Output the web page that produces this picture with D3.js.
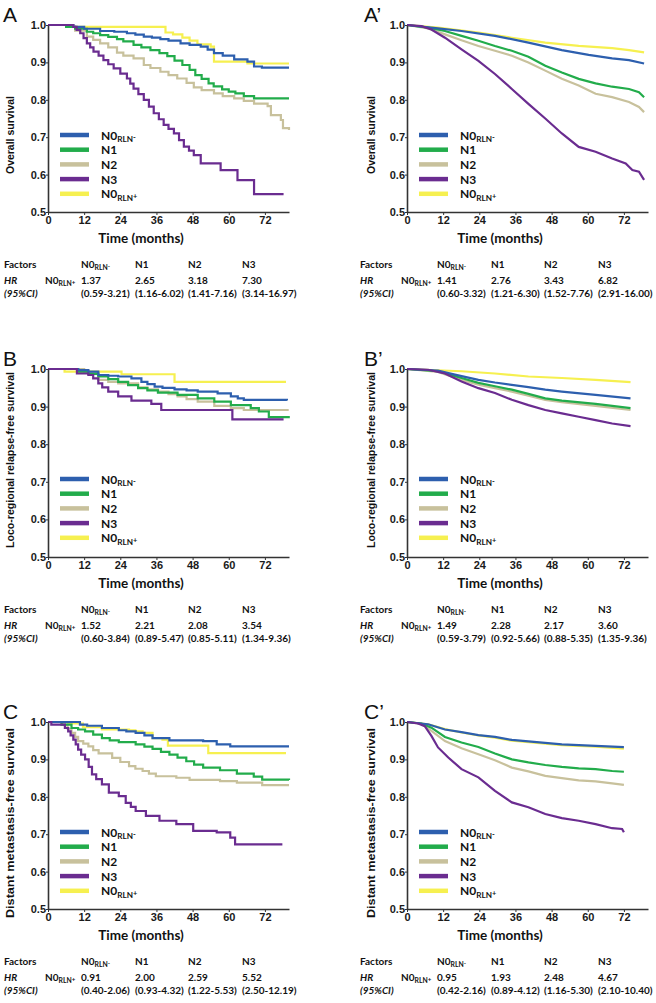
<!DOCTYPE html>
<html lang="en">
<head>
<meta charset="UTF-8">
<title>Survival by nodal category</title>
<script src="https://d3js.org/d3.v7.min.js"></script>
<style>
  body { margin: 0; background: #fff; }
  svg text { fill: #111; }
  .tick text { font-family: "Liberation Sans", Arial, sans-serif; font-size: 11px; font-weight: bold; fill: #1a1a1a; }
  .tick line, .domain { stroke: #333; }
  .domain { stroke-width: 1.6px; }
  .ylab { font-family: "Liberation Sans", Arial, sans-serif; font-weight: bold; font-size: 10.5px; }
  .xlab { font-family: Lato, sans-serif; font-weight: bold; font-size: 13.5px; }
  .leg { font-family: Lato, sans-serif; font-weight: bold; font-size: 12px; }
  .tbl { font-family: Lato, sans-serif; font-weight: bold; font-size: 10px; }
  .tag { font-family: "Liberation Sans", Arial, sans-serif; font-size: 21px; }
</style>
</head>
<body>
<div id="chart"></div>
<script>
// groups, colours, axis ticks
const groups = ["N0RLN-", "N1", "N2", "N3", "N0RLN+"];
const groupColors = ["#2d5fae", "#22ac4b", "#c8c19c", "#6a2c90", "#f6f050"];
const monthTicks = [0, 12, 24, 36, 48, 60, 72];
const survTicks = [0.5, 0.6, 0.7, 0.8, 0.9, 1.0];
const tableHead = ["N0RLN-", "N1", "N2", "N3"];

// ---- A: overall survival (small cohort) ----
const A_n0neg = [[0,1],[8.4,0.995],[12,0.99],[17.3,0.984],[22,0.982],[26.2,0.978],[29,0.974],[31.8,0.969],[34.5,0.966],[37.3,0.962],[40,0.958],[44,0.951],[47,0.947],[50.7,0.942],[53,0.934],[55.1,0.925],[58,0.918],[61.8,0.908],[66.2,0.902],[68.4,0.889],[71,0.886],[80,0.886]];
const A_n1 = [[0,1],[6,0.995],[9,0.99],[12.9,0.982],[15,0.978],[17.3,0.973],[20,0.968],[22.9,0.962],[25,0.956],[28.4,0.947],[31,0.94],[34,0.933],[37,0.925],[39.6,0.917],[42,0.905],[44.6,0.893],[47,0.88],[48.9,0.866],[51,0.856],[53.3,0.844],[55,0.836],[57.8,0.828],[60,0.822],[62.2,0.817],[65,0.81],[68.4,0.804],[80,0.804]];
const A_n2 = [[0,1],[6,0.995],[9,0.985],[12.9,0.969],[15,0.96],[17.3,0.951],[20,0.94],[22.9,0.926],[25,0.918],[28.4,0.911],[31.8,0.893],[34,0.885],[37.3,0.875],[40,0.866],[42.9,0.857],[46,0.845],[48.4,0.833],[51,0.826],[55.1,0.817],[58,0.81],[61.8,0.804],[65,0.797],[68.4,0.79],[72.9,0.783],[74,0.759],[77.3,0.746],[78,0.724],[80,0.719]];
const A_n3 = [[0,1],[8.4,0.995],[9.5,0.987],[10.7,0.978],[11.8,0.965],[12.9,0.951],[14,0.94],[15.1,0.929],[16.8,0.918],[18.4,0.906],[20,0.895],[21.8,0.884],[24,0.87],[26.2,0.857],[27.3,0.843],[28.4,0.83],[30,0.815],[31.8,0.8],[33.5,0.782],[35.1,0.764],[36.8,0.748],[38.4,0.733],[40,0.722],[41.8,0.71],[43.5,0.692],[45.1,0.675],[46.8,0.664],[48.4,0.652],[50.7,0.63],[57.3,0.612],[62.9,0.585],[68.4,0.548],[78.2,0.548]];
const A_n0pos = [[0,1],[7,0.995],[39,0.98],[41.5,0.975],[44.6,0.966],[47,0.958],[49.6,0.948],[54,0.942],[55.1,0.902],[66.2,0.897],[80,0.897]];
const A_hr = ["1.37", "2.65", "3.18", "7.30"];
const A_ci = ["(0.59-3.21)", "(1.16-6.02)", "(1.41-7.16)", "(3.14-16.97)"];

// ---- A': overall survival (large cohort) ----
const Ap_n0neg = [[0,1],[10.3,0.991],[18.1,0.984],[29.2,0.971],[40.3,0.953],[51.4,0.933],[60.3,0.92],[68.1,0.911],[73.7,0.906],[78.7,0.897]];
const Ap_n1 = [[0,1],[7,0.993],[12.6,0.984],[18.1,0.971],[23.7,0.958],[29.2,0.944],[34.8,0.931],[40.3,0.915],[45.9,0.891],[51.4,0.873],[57,0.856],[62.6,0.844],[68.1,0.835],[73.7,0.829],[77,0.82],[78.7,0.807]];
const Ap_n2 = [[0,1],[7,0.991],[12.6,0.975],[18.1,0.959],[23.7,0.944],[29.2,0.931],[34.8,0.918],[40.3,0.9],[45.9,0.878],[51.4,0.856],[57,0.838],[62.6,0.816],[68.1,0.807],[73.7,0.794],[77,0.781],[78.7,0.767]];
const Ap_n3 = [[0,1],[4.8,0.997],[8.1,0.988],[12.6,0.966],[18.1,0.935],[23.7,0.904],[29.2,0.869],[34.8,0.829],[40.3,0.789],[45.9,0.75],[51.4,0.71],[57,0.674],[62.6,0.661],[68.1,0.643],[72.6,0.63],[74.8,0.612],[77,0.608],[78.7,0.586]];
const Ap_n0pos = [[0,1],[10.3,0.993],[23.7,0.98],[34.8,0.966],[45.9,0.953],[57,0.944],[68.1,0.938],[73.7,0.933],[78.7,0.927]];
const Ap_hr = ["1.41", "2.76", "3.43", "6.82"];
const Ap_ci = ["(0.60-3.32)", "(1.21-6.30)", "(1.52-7.76)", "(2.91-16.00)"];

// ---- B: loco-regional relapse-free survival (small cohort) ----
const B_n0neg = [[0,1],[10,0.997],[13.4,0.993],[16.7,0.984],[20,0.982],[23.3,0.98],[27.7,0.975],[31,0.966],[33,0.96],[35.4,0.953],[38,0.95],[42,0.946],[46,0.943],[49.7,0.94],[56.3,0.935],[60.7,0.927],[63,0.922],[65,0.918],[79.3,0.916]];
const B_n1 = [[0,1],[10,0.993],[13.4,0.987],[16.7,0.98],[20,0.973],[23.3,0.966],[26.6,0.957],[29.9,0.949],[33,0.943],[36.5,0.937],[43,0.931],[49.7,0.922],[55.2,0.913],[60.7,0.904],[67.3,0.896],[70,0.887],[73.3,0.872],[79.9,0.869]];
const B_n2 = [[0,1],[12,0.99],[16.7,0.971],[20,0.966],[23.3,0.962],[29.9,0.951],[33,0.946],[36.5,0.94],[40,0.933],[43,0.927],[46,0.92],[49.7,0.913],[55.2,0.902],[60.7,0.896],[65,0.891],[79.9,0.891]];
const B_n3 = [[0,1],[9.6,0.988],[13.4,0.984],[15,0.975],[16.7,0.962],[18,0.951],[20,0.94],[23.3,0.927],[27.7,0.916],[34.3,0.907],[37.6,0.891],[61.2,0.866],[78.2,0.866]];
const B_n0pos = [[0,1],[5.5,0.993],[24.4,0.986],[42,0.966],[79,0.966]];
const B_hr = ["1.52", "2.21", "2.08", "3.54"];
const B_ci = ["(0.60-3.84)", "(0.89-5.47)", "(0.85-5.11)", "(1.34-9.36)"];

// ---- B': loco-regional relapse-free survival (large cohort) ----
const Bp_n0neg = [[0,1],[10.3,0.996],[15.9,0.985],[23.7,0.971],[29.2,0.964],[40.3,0.952],[45.9,0.945],[51.4,0.94],[62.6,0.931],[74.2,0.922]];
const Bp_n1 = [[0,1],[10.3,0.994],[18.1,0.976],[23.7,0.963],[29.2,0.954],[34.8,0.945],[40.3,0.934],[45.9,0.922],[51.4,0.916],[62.6,0.907],[68.1,0.902],[74.2,0.896]];
const Bp_n2 = [[0,1],[10.3,0.992],[18.1,0.971],[23.7,0.958],[29.2,0.949],[34.8,0.94],[40.3,0.929],[45.9,0.918],[51.4,0.912],[62.6,0.902],[74.2,0.891]];
const Bp_n3 = [[0,1],[7,0.998],[12.6,0.988],[18.1,0.967],[23.7,0.949],[29.2,0.936],[34.8,0.918],[40.3,0.904],[45.9,0.891],[51.4,0.882],[57,0.873],[62.6,0.864],[68.1,0.855],[74.2,0.848]];
const Bp_n0pos = [[0,1],[18.1,0.994],[29.2,0.988],[40.3,0.98],[51.4,0.976],[62.6,0.971],[74.2,0.965]];
const Bp_hr = ["1.49", "2.28", "2.17", "3.60"];
const Bp_ci = ["(0.59-3.79)", "(0.92-5.66)", "(0.88-5.35)", "(1.35-9.36)"];

// ---- C: distant metastasis-free survival (small cohort) ----
const C_n0neg = [[0,1],[10.6,0.993],[13,0.99],[17.9,0.984],[23.5,0.978],[26,0.975],[29.1,0.971],[32,0.964],[34.7,0.957],[40.3,0.951],[51.5,0.949],[56,0.94],[60.5,0.935],[80,0.935]];
const C_n1 = [[0,1],[4.5,0.993],[7.8,0.984],[10,0.98],[12.3,0.975],[15,0.966],[17.9,0.957],[20.5,0.951],[23.5,0.946],[29.1,0.94],[32,0.934],[34.7,0.928],[37.5,0.92],[40.3,0.913],[43,0.905],[45.9,0.895],[48.5,0.886],[51.5,0.878],[57.1,0.871],[62.7,0.862],[68.3,0.854],[71.1,0.846],[80,0.845]];
const C_n2 = [[0,1],[4.5,0.993],[6.5,0.982],[7.8,0.971],[9,0.96],[10,0.949],[11.7,0.942],[13.4,0.935],[15,0.925],[16.8,0.916],[21.3,0.904],[24,0.893],[26.9,0.882],[29,0.875],[31.4,0.869],[33.5,0.862],[35.8,0.855],[42.6,0.851],[47,0.845],[57.1,0.842],[62.7,0.838],[71.1,0.831],[80,0.831]];
const C_n3 = [[0,1],[1.1,0.993],[5.6,0.984],[6.7,0.975],[7.5,0.964],[8.4,0.953],[9.2,0.94],[10,0.926],[11,0.913],[12.3,0.9],[13.5,0.88],[14.6,0.86],[16,0.847],[17.9,0.833],[20.2,0.811],[23.5,0.802],[25.8,0.784],[27.5,0.773],[29.1,0.762],[32.5,0.749],[37,0.736],[42.6,0.727],[48.2,0.709],[56,0.705],[60.5,0.691],[62.1,0.673],[77.8,0.673]];
const C_n0pos = [[0,1],[6.7,0.996],[11.6,0.986],[17.9,0.98],[26.9,0.978],[29,0.975],[31.4,0.971],[34.7,0.957],[38,0.953],[39.8,0.937],[53.2,0.917],[79,0.917]];
const C_hr = ["0.91", "2.00", "2.59", "5.52"];
const C_ci = ["(0.40-2.06)", "(0.93-4.32)", "(1.22-5.53)", "(2.50-12.19)"];

// ---- C': distant metastasis-free survival (large cohort) ----
const Cp_n0neg = [[0,1],[7,0.994],[12.6,0.98],[18.1,0.973],[23.7,0.965],[29.2,0.96],[34.8,0.952],[40.3,0.948],[51.4,0.94],[62.6,0.936],[72,0.933]];
const Cp_n1 = [[0,1],[4.8,0.996],[8.1,0.985],[12.6,0.96],[18.1,0.945],[23.7,0.933],[29.2,0.916],[34.8,0.9],[40.3,0.892],[45.9,0.885],[51.4,0.88],[57,0.876],[62.6,0.874],[68.1,0.869],[72,0.867]];
const Cp_n2 = [[0,1],[4.8,0.995],[8.1,0.976],[12.6,0.949],[18.1,0.93],[23.7,0.914],[29.2,0.898],[34.8,0.878],[40.3,0.868],[45.9,0.856],[51.4,0.85],[57,0.844],[62.6,0.841],[68.1,0.836],[72,0.832]];
const Cp_n3 = [[0,1],[3.7,0.996],[5.9,0.989],[8.1,0.963],[10.3,0.932],[13.7,0.905],[18.1,0.874],[23.7,0.852],[29.2,0.816],[34.8,0.785],[40.3,0.772],[45.9,0.754],[51.4,0.743],[57,0.736],[62.6,0.727],[68.1,0.716],[71.4,0.714],[72,0.705]];
const Cp_n0pos = [[0,1],[7,0.994],[12.6,0.981],[18.1,0.972],[23.7,0.964],[29.2,0.958],[34.8,0.95],[40.3,0.946],[51.4,0.938],[62.6,0.934],[72,0.929]];
const Cp_hr = ["0.95", "1.93", "2.48", "4.67"];
const Cp_ci = ["(0.42-2.16)", "(0.89-4.12)", "(1.16-5.30)", "(2.10-10.40)"];

// ---- layout ----
const W = 656, H = 1003;
const colX = [48, 407];          // y-axis position of each column
const rows = [{top: 25, bottom: 212}, {top: 369, bottom: 557}, {top: 722, bottom: 909}];
const plotW = 241;

const panels = [
  {tag: "A",  col: 0, row: 0, ylab: "Overall survival", ylen: 78, ycy: 135, step: true,
   series: [A_n0neg, A_n1, A_n2, A_n3, A_n0pos], hr: A_hr, ci: A_ci},
  {tag: "A\u2019", col: 1, row: 0, ylab: "Overall survival", ylen: 78, ycy: 135, step: false,
   series: [Ap_n0neg, Ap_n1, Ap_n2, Ap_n3, Ap_n0pos], hr: Ap_hr, ci: Ap_ci},
  {tag: "B",  col: 0, row: 1, ylab: "Loco-regional relapse-free survival", ylen: 176, ycy: 460, step: true,
   series: [B_n0neg, B_n1, B_n2, B_n3, B_n0pos], hr: B_hr, ci: B_ci},
  {tag: "B\u2019", col: 1, row: 1, ylab: "Loco-regional relapse-free survival", ylen: 176, ycy: 460, step: false,
   series: [Bp_n0neg, Bp_n1, Bp_n2, Bp_n3, Bp_n0pos], hr: Bp_hr, ci: Bp_ci},
  {tag: "C",  col: 0, row: 2, ylab: "Distant metastasis-free survival", ylen: 190, ycy: 823, step: true,
   series: [C_n0neg, C_n1, C_n2, C_n3, C_n0pos], hr: C_hr, ci: C_ci},
  {tag: "C\u2019", col: 1, row: 2, ylab: "Distant metastasis-free survival", ylen: 190, ycy: 823, step: false,
   series: [Cp_n0neg, Cp_n1, Cp_n2, Cp_n3, Cp_n0pos], hr: Cp_hr, ci: Cp_ci}
];

const svg = d3.select("#chart").append("svg")
  .attr("width", W).attr("height", H);

// "N0RLN-" -> N0 with RLN subscript and small sign
function nLabel(sel, name, size) {
  if (name.startsWith("N0")) {
    sel.append("tspan").text("N0");
    sel.append("tspan").attr("font-size", size * 0.68).attr("dy", size * 0.22).text("RLN");
    sel.append("tspan").attr("font-size", size * 0.62).attr("dy", -size * 0.2).text(name.slice(-1));
  } else {
    sel.text(name);
  }
}

function drawPanel(p) {
  const x0 = colX[p.col], r = rows[p.row];
  const x = d3.scaleLinear().domain([0, 80]).range([x0, x0 + plotW]);
  const y = d3.scaleLinear().domain([0.5, 1]).range([r.bottom, r.top]);
  const g = svg.append("g");

  // panel tag
  g.append("text").attr("class", "tag")
    .attr("x", p.col === 0 ? 3 : 364).attr("y", r.top - 3).text(p.tag);

  // curves (yellow first, purple last)
  const line = d3.line().x(d => x(d[0])).y(d => y(d[1]))
    .curve(p.step ? d3.curveStepAfter : d3.curveLinear);
  [4, 2, 1, 0, 3].forEach(i => {
    g.append("path").datum(p.series[i])
      .attr("d", line)
      .attr("fill", "none")
      .attr("stroke", groupColors[i])
      .attr("stroke-width", 2.2);
  });

  // axes
  g.append("g").attr("transform", `translate(0,${r.bottom})`)
    .call(d3.axisBottom(x).tickValues(monthTicks).tickSize(3).tickSizeOuter(0).tickPadding(1));
  g.append("g").attr("transform", `translate(${x0},0)`)
    .call(d3.axisLeft(y).tickValues(survTicks).tickFormat(d3.format(".1f"))
      .tickSize(2).tickSizeOuter(0).tickPadding(0));

  // axis titles
  g.append("text").attr("class", "xlab")
    .attr("x", x0 + 93).attr("y", r.bottom + 31)
    .attr("text-anchor", "middle").text("Time (months)");
  g.append("text").attr("class", "ylab")
    .attr("transform", `translate(${p.col === 0 ? 14 : 375},${p.ycy}) rotate(-90)`)
    .attr("text-anchor", "middle")
    .attr("textLength", p.ylen).attr("lengthAdjust", "spacingAndGlyphs")
    .text(p.ylab);

  // legend
  groups.forEach((name, i) => {
    const ly = r.top + 110 + i * 14.7;
    g.append("line").attr("x1", x0 + 12).attr("x2", x0 + 41)
      .attr("y1", ly).attr("y2", ly)
      .attr("stroke", groupColors[i]).attr("stroke-width", 4.5);
    nLabel(g.append("text").attr("class", "leg")
      .attr("x", x0 + 53).attr("y", ly + 4.5), name, 12);
  });

  // hazard ratio table
  const tx = p.col === 0 ? 0 : 356;
  const cols = [81, 135, 188, 242];
  const y1 = r.bottom + 56, y2 = r.bottom + 72, y3 = r.bottom + 85;
  g.append("text").attr("class", "tbl").attr("x", tx + 4).attr("y", y1).text("Factors");
  tableHead.forEach((h, i) => {
    nLabel(g.append("text").attr("class", "tbl").attr("x", tx + cols[i]).attr("y", y1), h, 10);
  });
  g.append("text").attr("class", "tbl").attr("x", tx + 4).attr("y", y2)
    .attr("font-style", "italic").text("HR");
  nLabel(g.append("text").attr("class", "tbl").attr("x", tx + 45).attr("y", y2), "N0RLN+", 10);
  g.append("text").attr("class", "tbl").attr("x", tx + 4).attr("y", y3)
    .attr("font-style", "italic").text("(95%CI)");
  p.hr.forEach((v, i) => {
    g.append("text").attr("class", "tbl").attr("x", tx + cols[i]).attr("y", y2).text(v);
  });
  p.ci.forEach((v, i) => {
    g.append("text").attr("class", "tbl").attr("x", tx + cols[i]).attr("y", y3).text(v);
  });
}

panels.forEach(drawPanel);
</script>
</body>
</html>
